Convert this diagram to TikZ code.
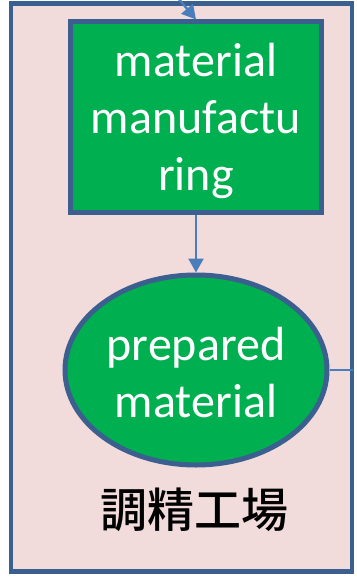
\documentclass[tikz,border=0pt]{standalone}
\usepackage{fontspec}
\setmainfont{Carlito}
\newfontfamily\cjkfont{Noto Sans CJK JP Medium}
\usetikzlibrary{arrows.meta,shapes.geometric}
\definecolor{frameblue}{HTML}{3B5F8F}
\definecolor{linkblue}{HTML}{4A7EBB}
\definecolor{boxgreen}{HTML}{00B050}
\definecolor{pinkbg}{HTML}{F2DCDB}
\tikzset{
  greenbox/.style={draw=frameblue, line width=5pt, fill=boxgreen, inner sep=0pt},
  boxtext/.style={text=white, font=\fontsize{48}{57}\selectfont, align=center, inner sep=0pt},
  link/.style={draw=linkblue, line width=2.4pt, -{Triangle[length=14pt,width=15pt]}},
  plainlink/.style={draw=linkblue, line width=2.4pt}
}
\begin{document}
\begin{tikzpicture}[x=1pt,y=-1pt]
\useasboundingbox (0,0) rectangle (356,577);
\node[draw=frameblue, line width=4.5pt, fill=pinkbg, minimum width=341pt, minimum height=568pt, inner sep=0pt] (frame) at (181.5,287.5) {};
\node[greenbox, minimum width=251pt, minimum height=190pt] (mfg) at (196,117) {};
\node[boxtext] (mfgtext) at (196,121) {material\\manufactu\\ring};
\node[greenbox, ellipse, minimum width=262pt, minimum height=190pt] (prep) at (196,370) {};
\node[boxtext] (preptext) at (196,373) {prepared\\material};
\node[font=\cjkfont\fontsize{47}{52}\selectfont, inner sep=0pt] (lab) at (194,510) {調精工場};
\coordinate (src) at (178,-2);
\coordinate (out) at (353,370);
\draw[link] (src) -- (mfg.north);
\draw[link] (mfg.south) -- (prep.north);
\draw[plainlink] (prep.east) -- (out);
\end{tikzpicture}
\end{document}
